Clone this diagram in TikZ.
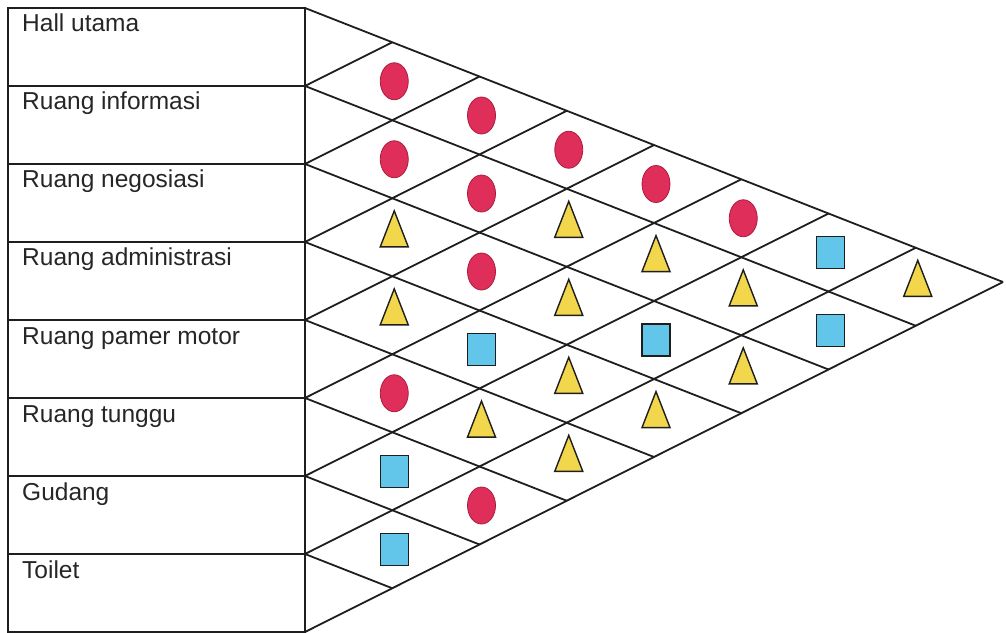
\documentclass[tikz,border=0pt]{standalone}
\usepackage{fontspec}
\setmainfont{Liberation Sans}
\usetikzlibrary{shapes.geometric}
\definecolor{ink}{HTML}{1E1E1E}
\definecolor{relred}{RGB}{224,46,90}
\definecolor{relredline}{RGB}{170,28,62}
\definecolor{relyellow}{RGB}{242,214,76}
\definecolor{relblue}{RGB}{98,198,234}
\begin{document}
\begin{tikzpicture}[x=1bp,y=-1bp,
  gridline/.style={draw=ink, line width=1.8bp},
  roomlabel/.style={anchor=base west, inner sep=0,
    font=\fontsize{24.5bp}{28bp}\selectfont, text=black!85},
  relcircle/.style={ellipse, fill=relred, draw=relredline, line width=0.8bp,
    minimum width=28bp, minimum height=37bp, inner sep=0},
  reltri/.style={isosceles triangle, isosceles triangle stretches,
    shape border rotate=90, fill=relyellow, draw=ink, line width=1.4bp,
    minimum width=28bp, minimum height=36bp, inner sep=0},
  relsq/.style={rectangle, fill=relblue, draw=ink, line width=1.4bp,
    minimum width=28bp, minimum height=32bp, inner sep=0}]
\useasboundingbox (0,0) rectangle (1006,633);

% room list on the left
\draw[gridline] (8,8) rectangle (305,632);
\foreach \k in {0,...,8} \coordinate (b\k) at (305,{8+78*\k});
\foreach \k in {1,...,7} \draw[gridline] (8,{8+78*\k}) -- (b\k);
\foreach \k/\name in {0/Hall utama,1/Ruang informasi,2/Ruang negosiasi,
    3/Ruang administrasi,4/Ruang pamer motor,5/Ruang tunggu,6/Gudang,7/Toilet}
  \node[roomlabel] (r\k) at (22,{8+78*\k+24}) {\name};

% relationship grid: falling and rising lines from each row boundary
\foreach \k in {0,...,7}
  \draw[gridline] (b\k) -- ++({87.25*(8-\k)},{34.25*(8-\k)});
\foreach \k in {1,...,8}
  \draw[gridline] (b\k) -- ++({87.25*\k},{-43.75*\k});

% relationship marks for each pair of rooms
\foreach \i/\j/\s in {
  0/1/relcircle,1/2/relcircle,2/3/reltri,3/4/reltri,4/5/relcircle,5/6/relsq,6/7/relsq,
  0/2/relcircle,1/3/relcircle,2/4/relcircle,3/5/relsq,4/6/reltri,5/7/relcircle,
  0/3/relcircle,1/4/reltri,2/5/reltri,3/6/reltri,4/7/reltri,
  0/4/relcircle,1/5/reltri,2/6/relsq,3/7/reltri,
  0/5/relcircle,1/6/reltri,2/7/reltri,
  0/6/relsq,1/7/relsq,
  0/7/reltri}{
  \pgfmathsetmacro{\px}{307+87.25*(\j-\i)}
  \pgfmathsetmacro{\py}{8+78*\i+39+34.25*(\j-\i)}
  \node[\s] (p\i\j) at (\px,\py) {};
}
\end{tikzpicture}
\end{document}
